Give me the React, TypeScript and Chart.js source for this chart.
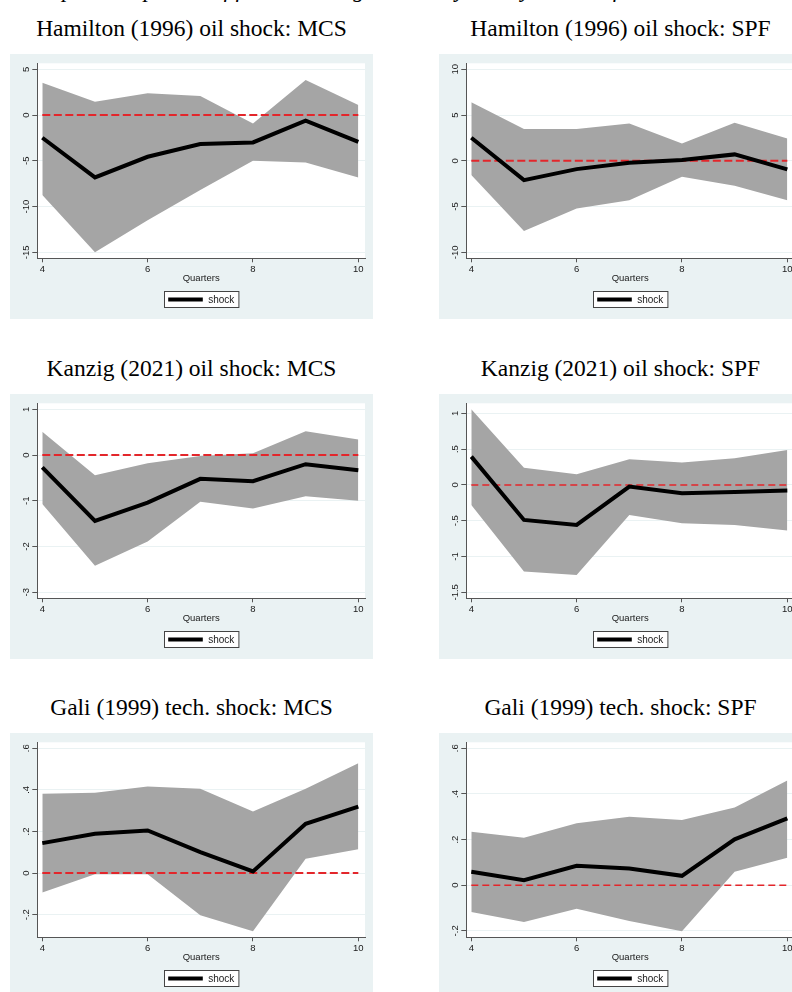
import React, { useEffect, useRef } from "react";
import { Chart, registerables } from "chart.js";

Chart.register(...registerables);

// ---------------- data ----------------
const quarters = [4, 5, 6, 7, 8, 9, 10];
const xTicks = [4, 6, 8, 10];
const zeroLine = [0, 0, 0, 0, 0, 0, 0];

// Hamilton (1996) oil shock: MCS
const hamMcsIrf = [-2.48, -6.82, -4.56, -3.17, -2.99, -0.62, -2.92];
const hamMcsUpper = [3.53, 1.46, 2.37, 2.08, -0.91, 3.83, 1.09];
const hamMcsLower = [-8.75, -15.0, -11.5, -8.2, -5.0, -5.18, -6.82];
const hamMcsYTicks = [-15, -10, -5, 0, 5];
const hamMcsYLabels = ["-15", "-10", "-5", "0", "5"];

// Hamilton (1996) oil shock: SPF
const hamSpfIrf = [2.52, -2.11, -0.91, -0.22, 0.08, 0.7, -0.94];
const hamSpfUpper = [6.39, 3.47, 3.47, 4.09, 1.9, 4.16, 2.45];
const hamSpfLower = [-1.56, -7.66, -5.21, -4.3, -1.75, -2.73, -4.3];
const hamSpfYTicks = [-10, -5, 0, 5, 10];
const hamSpfYLabels = ["-10", "-5", "0", "5", "10"];

// Kanzig (2021) oil shock: MCS
const kanMcsIrf = [-0.27, -1.44, -1.04, -0.52, -0.57, -0.2, -0.33];
const kanMcsUpper = [0.51, -0.44, -0.18, -0.02, 0.04, 0.52, 0.34];
const kanMcsLower = [-1.07, -2.42, -1.89, -1.02, -1.17, -0.9, -1.0];
const kanMcsYTicks = [-3, -2, -1, 0, 1];
const kanMcsYLabels = ["-3", "-2", "-1", "0", "1"];

// Kanzig (2021) oil shock: SPF
const kanSpfIrf = [0.396, -0.489, -0.559, -0.023, -0.116, -0.098, -0.079];
const kanSpfUpper = [1.057, 0.242, 0.149, 0.358, 0.312, 0.372, 0.489];
const kanSpfLower = [-0.279, -1.21, -1.257, -0.419, -0.535, -0.559, -0.638];
const kanSpfYTicks = [-1.5, -1, -0.5, 0, 0.5, 1];
const kanSpfYLabels = ["-1.5", "-1", "-.5", "0", ".5", "1"];

// Gali (1999) tech. shock: MCS
const galMcsIrf = [0.144, 0.189, 0.205, 0.101, 0.008, 0.237, 0.32];
const galMcsUpper = [0.381, 0.386, 0.416, 0.405, 0.296, 0.405, 0.528];
const galMcsLower = [-0.094, -0.006, -0.006, -0.203, -0.28, 0.069, 0.114];
const galMcsYTicks = [-0.2, 0, 0.2, 0.4, 0.6];
const galMcsYLabels = ["-.2", "0", ".2", ".4", ".6"];

// Gali (1999) tech. shock: SPF
const galSpfIrf = [0.059, 0.022, 0.085, 0.073, 0.041, 0.201, 0.293];
const galSpfUpper = [0.234, 0.208, 0.271, 0.3, 0.286, 0.341, 0.459];
const galSpfLower = [-0.117, -0.161, -0.103, -0.157, -0.202, 0.059, 0.12];
const galSpfYTicks = [-0.2, 0, 0.2, 0.4, 0.6];
const galSpfYLabels = ["-.2", "0", ".2", ".4", ".6"];

const panelTitles = [
  "Hamilton (1996) oil shock: MCS",
  "Hamilton (1996) oil shock: SPF",
  "Kanzig (2021) oil shock: MCS",
  "Kanzig (2021) oil shock: SPF",
  "Gali (1999) tech. shock: MCS",
  "Gali (1999) tech. shock: SPF",
];
const xAxisTitle = "Quarters";
const legendLabel = "shock";
const figureTitle = "Impulse responses of forecast disagreement by survey to identified shocks";

// ---------------- layout / style ----------------
const PANEL_W = 363;
const PANEL_H = 265;
const COL_LEFTS = [10, 439];
const ROW_TOPS = [54, 394, 733];
const PLOT_LEFT = 27.3;
const PLOT_TOP = 9.3;
const PLOT_RIGHT = 355;
const PLOT_BOTTOM = 204.3;
const EDGE_PAD = 6;
const X_MIN = 3.905;
const X_MAX = 10.127;
const BOX_COLOR = "rgb(234,242,243)";
const GRID_COLOR = "rgb(234,242,243)";
const AXIS_COLOR = "#555555";
const TEXT_COLOR = "#1a1a1a";
const BAND_COLOR = "#a5a5a5";
const ZERO_COLOR = "#e3262b";
const SANS = "'Liberation Sans', Arial, sans-serif";
const SERIF = "'Liberation Serif', 'Times New Roman', serif";
const TICK_FONT = 9.5;
const TITLE_FONT = 23.5;

type Panel = {
  title: string;
  irf: number[];
  upper: number[];
  lower: number[];
  yTicks: number[];
  yLabels: string[];
  zeroWidth: number;
  zeroDash: number[];
};

const panels: Panel[] = [
  { title: panelTitles[0], irf: hamMcsIrf, upper: hamMcsUpper, lower: hamMcsLower, yTicks: hamMcsYTicks, yLabels: hamMcsYLabels, zeroWidth: 2, zeroDash: [8, 3.5] },
  { title: panelTitles[1], irf: hamSpfIrf, upper: hamSpfUpper, lower: hamSpfLower, yTicks: hamSpfYTicks, yLabels: hamSpfYLabels, zeroWidth: 2, zeroDash: [8, 3.5] },
  { title: panelTitles[2], irf: kanMcsIrf, upper: kanMcsUpper, lower: kanMcsLower, yTicks: kanMcsYTicks, yLabels: kanMcsYLabels, zeroWidth: 2, zeroDash: [8, 3.5] },
  { title: panelTitles[3], irf: kanSpfIrf, upper: kanSpfUpper, lower: kanSpfLower, yTicks: kanSpfYTicks, yLabels: kanSpfYLabels, zeroWidth: 1.4, zeroDash: [7, 4] },
  { title: panelTitles[4], irf: galMcsIrf, upper: galMcsUpper, lower: galMcsLower, yTicks: galMcsYTicks, yLabels: galMcsYLabels, zeroWidth: 2, zeroDash: [8, 3.5] },
  { title: panelTitles[5], irf: galSpfIrf, upper: galSpfUpper, lower: galSpfLower, yTicks: galSpfYTicks, yLabels: galSpfYLabels, zeroWidth: 1.4, zeroDash: [7, 4] },
];

const toPoints = (ys: number[]) => quarters.map((x, i) => ({ x, y: ys[i] }));

function yRange(p: Panel) {
  const lo = Math.min(...p.lower, ...p.yTicks);
  const hi = Math.max(...p.upper, ...p.yTicks);
  const inner = PLOT_BOTTOM - PLOT_TOP - 2 * EDGE_PAD;
  const u = (hi - lo) / inner;
  return { min: lo - EDGE_PAD * u, max: hi + EDGE_PAD * u };
}

const decorPlugin = {
  id: "stataDecor",
  beforeDraw(chart: any) {
    const { ctx, chartArea: a } = chart;
    ctx.save();
    ctx.fillStyle = BOX_COLOR;
    ctx.fillRect(0, 0, chart.width, chart.height);
    ctx.fillStyle = "#ffffff";
    ctx.fillRect(a.left, a.top, a.right - a.left, a.bottom - a.top);
    ctx.restore();
  },
  afterDraw(chart: any, _args: any, opts: any) {
    const { ctx, chartArea: a } = chart;
    const ys = chart.scales.y;
    const labels: string[] = opts.yLabels;
    const ticks: number[] = opts.yTicks;
    ctx.save();
    // rotated y tick labels
    ctx.fillStyle = TEXT_COLOR;
    ctx.font = `${TICK_FONT}px ${SANS}`;
    ctx.textAlign = "center";
    ctx.textBaseline = "middle";
    ticks.forEach((v, i) => {
      const py = ys.getPixelForValue(v);
      ctx.save();
      ctx.translate(a.left - 11.3, py);
      ctx.rotate(-Math.PI / 2);
      ctx.fillText(labels[i], 0, 0);
      ctx.restore();
    });
    // legend box
    const bw = 74.4;
    const bh = 16;
    const cx = (a.left + a.right) / 2;
    const bx = Math.round(cx - bw / 2) + 0.5;
    const by = Math.round(a.bottom + 32.4) + 0.5;
    ctx.fillStyle = "#ffffff";
    ctx.fillRect(bx, by, bw, bh);
    ctx.strokeStyle = "#444444";
    ctx.lineWidth = 1;
    ctx.strokeRect(bx, by, bw, bh);
    ctx.strokeStyle = "#000000";
    ctx.lineWidth = 4;
    ctx.beginPath();
    ctx.moveTo(bx + 3.7, by + bh / 2);
    ctx.lineTo(bx + 38.3, by + bh / 2);
    ctx.stroke();
    ctx.fillStyle = TEXT_COLOR;
    ctx.font = `10px ${SANS}`;
    ctx.textAlign = "left";
    ctx.textBaseline = "middle";
    ctx.fillText(opts.legendText, bx + 43.7, by + bh / 2 + 0.5);
    ctx.restore();
  },
};

function PanelChart({ panel, left, top }: { panel: Panel; left: number; top: number }) {
  const ref = useRef<HTMLCanvasElement | null>(null);
  useEffect(() => {
    if (!ref.current) return;
    const { min, max } = yRange(panel);
    const chart = new Chart(ref.current, {
      type: "line",
      data: {
        datasets: [
          {
            label: legendLabel,
            data: toPoints(panel.irf),
            borderColor: "#000000",
            borderWidth: 4,
            pointRadius: 0,
            fill: false,
            tension: 0,
            order: 1,
          },
          {
            label: "zero",
            data: toPoints(zeroLine),
            borderColor: ZERO_COLOR,
            borderWidth: panel.zeroWidth,
            borderDash: panel.zeroDash,
            pointRadius: 0,
            fill: false,
            order: 2,
          },
          {
            label: "upper",
            data: toPoints(panel.upper),
            borderWidth: 0,
            borderColor: BAND_COLOR,
            backgroundColor: BAND_COLOR,
            pointRadius: 0,
            fill: "+1",
            order: 3,
          },
          {
            label: "lower",
            data: toPoints(panel.lower),
            borderWidth: 0,
            borderColor: BAND_COLOR,
            backgroundColor: BAND_COLOR,
            pointRadius: 0,
            fill: false,
            order: 3,
          },
        ],
      },
      options: {
        responsive: false,
        animation: false,
        devicePixelRatio: 1,
        events: [],
        layout: { padding: { left: 0, top: PLOT_TOP, right: PANEL_W - PLOT_RIGHT, bottom: 0 } },
        plugins: {
          legend: { display: false },
          tooltip: { enabled: false },
          stataDecor: { yLabels: panel.yLabels, yTicks: panel.yTicks, legendText: legendLabel },
        } as any,
        scales: {
          x: {
            type: "linear",
            min: X_MIN,
            max: X_MAX,
            afterBuildTicks: (s: any) => {
              s.ticks = xTicks.map((v) => ({ value: v }));
            },
            afterFit: (s: any) => {
              s.height = PANEL_H - PLOT_BOTTOM;
            },
            grid: { drawOnChartArea: false, drawTicks: true, tickLength: 4, tickColor: AXIS_COLOR, color: AXIS_COLOR },
            border: { display: true, color: AXIS_COLOR, width: 1 },
            ticks: {
              autoSkip: false,
              maxRotation: 0,
              padding: 1,
              color: TEXT_COLOR,
              font: { family: SANS, size: TICK_FONT },
              callback: (v: any) => String(v),
            },
            title: {
              display: true,
              text: xAxisTitle,
              color: TEXT_COLOR,
              font: { family: SANS, size: TICK_FONT },
              padding: { top: 0, bottom: 35 },
            },
          },
          y: {
            type: "linear",
            min,
            max,
            afterBuildTicks: (s: any) => {
              s.ticks = panel.yTicks.map((v) => ({ value: v }));
            },
            afterFit: (s: any) => {
              s.width = PLOT_LEFT;
            },
            grid: { color: GRID_COLOR, lineWidth: 1, drawTicks: true, tickLength: 5, tickColor: AXIS_COLOR },
            border: { display: true, color: AXIS_COLOR, width: 1 },
            ticks: { display: false },
          },
        },
      } as any,
      plugins: [decorPlugin as any],
    });
    return () => chart.destroy();
  }, [panel]);

  return (
    <div style={{ position: "absolute", left, top, width: PANEL_W, height: PANEL_H }}>
      <canvas ref={ref} width={PANEL_W} height={PANEL_H} style={{ display: "block", width: PANEL_W, height: PANEL_H }} />
    </div>
  );
}

export default function App() {
  return (
    <div
      style={{
        position: "fixed",
        left: 0,
        top: 0,
        width: 792,
        height: 992,
        overflow: "hidden",
        background: "#ffffff",
      }}
    >
      <div
        style={{
          position: "absolute",
          left: 38,
          top: -23.5,
          whiteSpace: "nowrap",
          fontFamily: SERIF,
          fontStyle: "italic",
          fontSize: 23,
          lineHeight: "normal",
          color: "#000",
        }}
      >
        {figureTitle}
      </div>
      {panels.map((p, i) => {
        const col = i % 2;
        const row = Math.floor(i / 2);
        const left = COL_LEFTS[col];
        const top = ROW_TOPS[row];
        return (
          <React.Fragment key={i}>
            <div
              style={{
                position: "absolute",
                left,
                top: top - 18 - 0.891 * TITLE_FONT,
                width: PANEL_W,
                textAlign: "center",
                whiteSpace: "nowrap",
                fontFamily: SERIF,
                fontSize: TITLE_FONT,
                lineHeight: "normal",
                color: "#000",
              }}
            >
              {p.title}
            </div>
            <PanelChart panel={p} left={left} top={top} />
          </React.Fragment>
        );
      })}
    </div>
  );
}
